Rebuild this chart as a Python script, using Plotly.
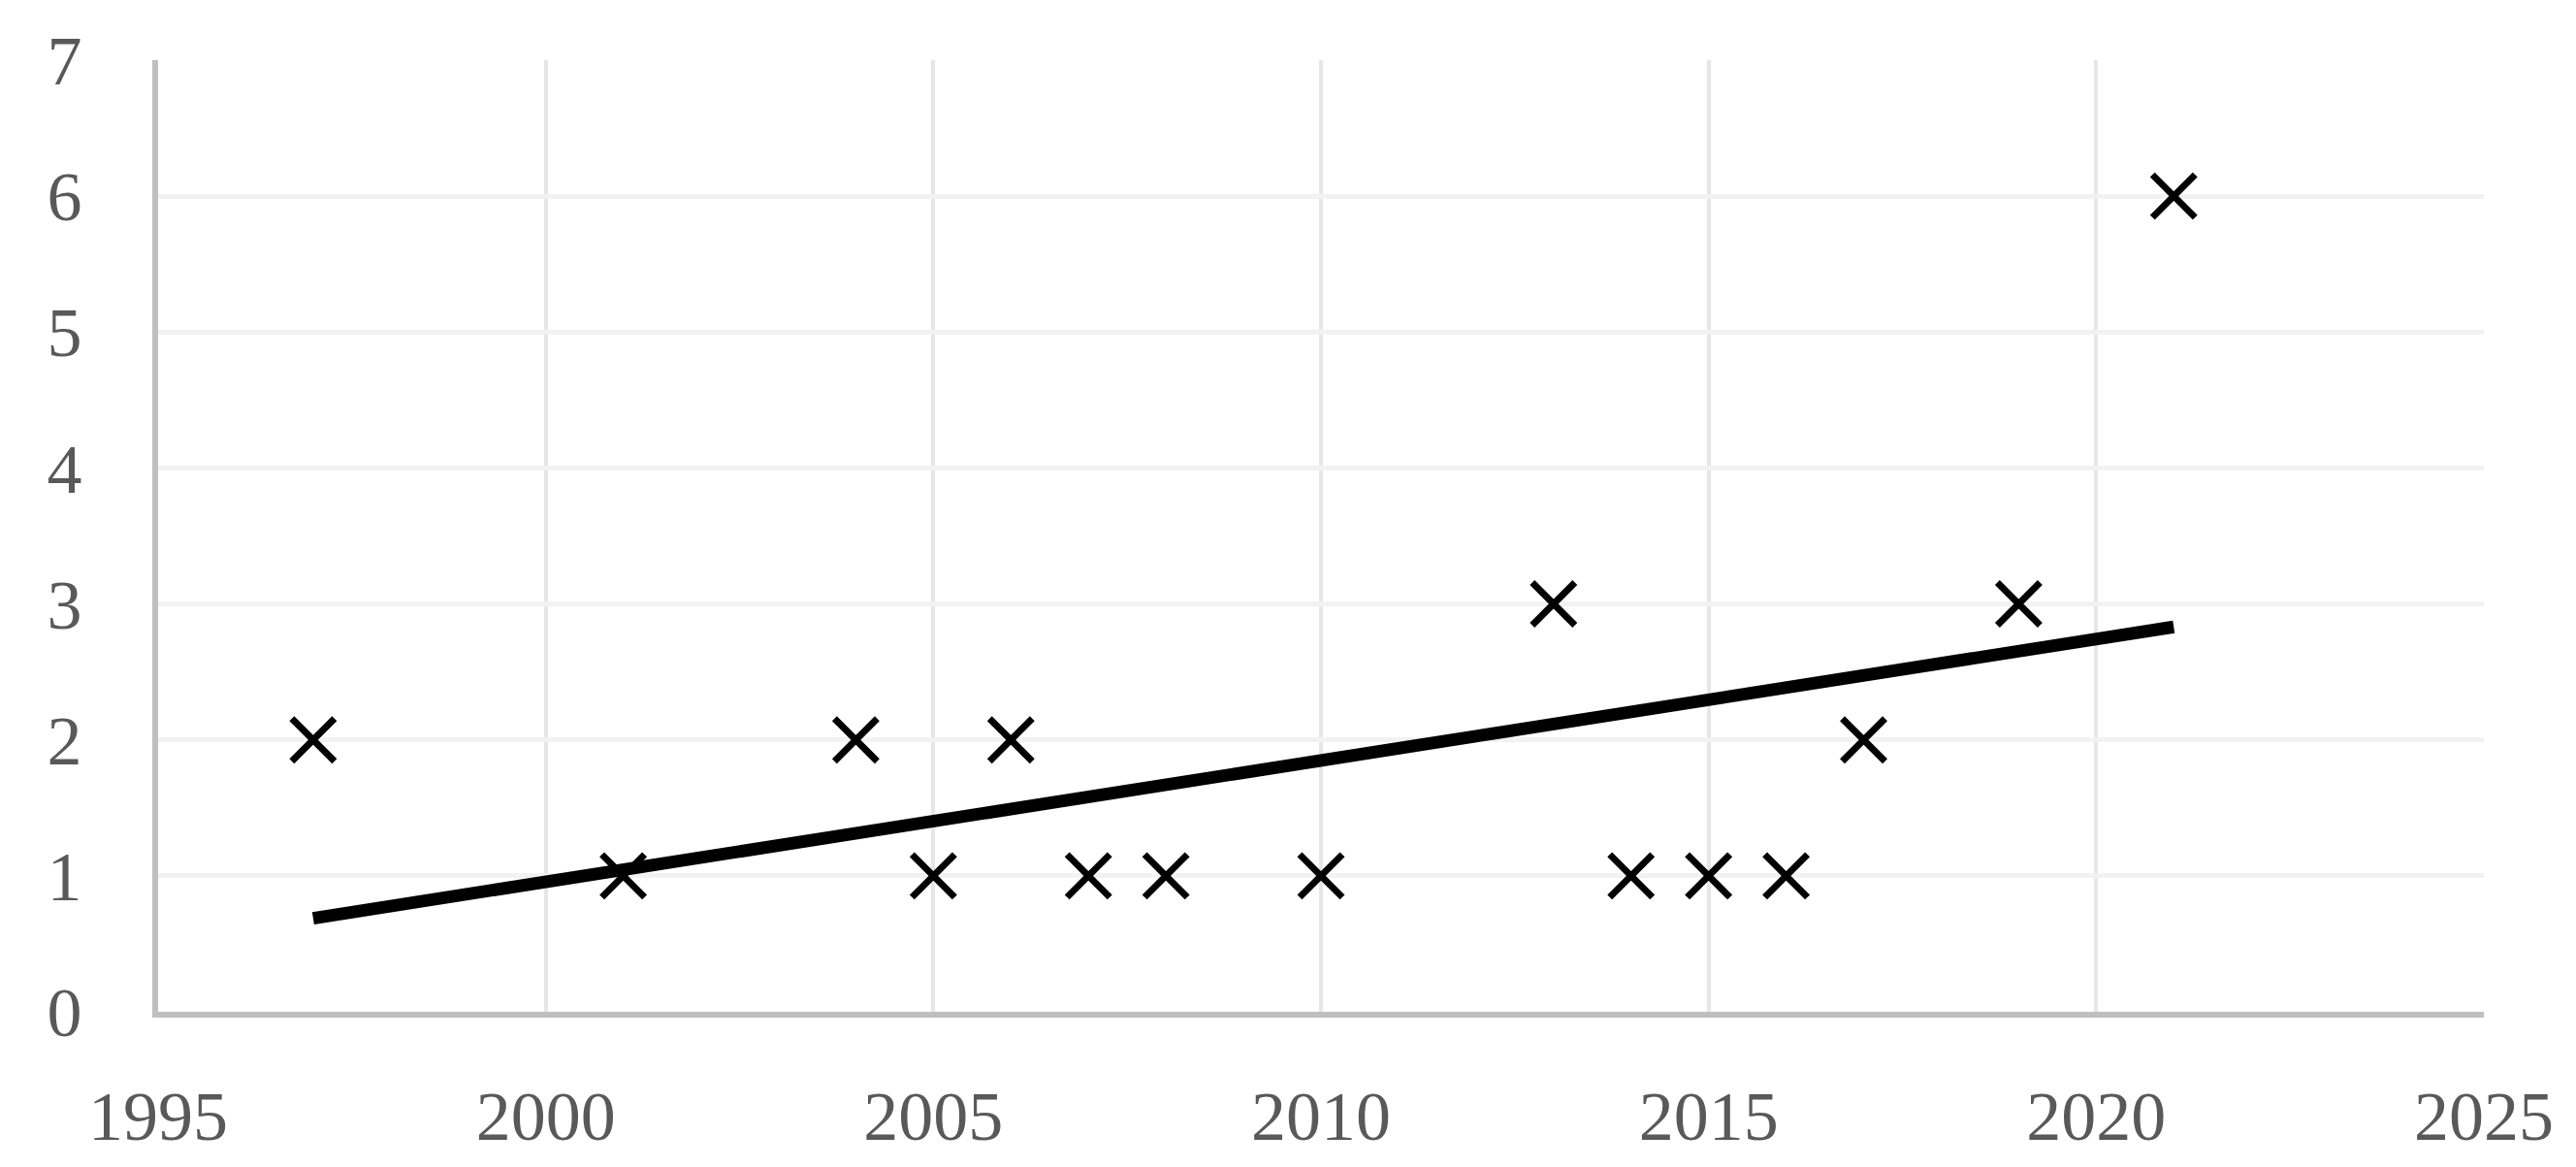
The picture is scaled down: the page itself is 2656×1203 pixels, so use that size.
import numpy as np
import plotly.graph_objects as go

years = [1997, 2001, 2004, 2005, 2006, 2007, 2008, 2010, 2013, 2014, 2015, 2016, 2017, 2019, 2021]
counts = [2, 1, 2, 1, 2, 1, 1, 1, 3, 1, 1, 1, 2, 3, 6]

x_ticks = [1995, 2000, 2005, 2010, 2015, 2020, 2025]
y_ticks = [0, 1, 2, 3, 4, 5, 6, 7]

# linear trendline over the data range
slope, intercept = np.polyfit(years, counts, 1)
trend_x = [min(years), max(years)]
trend_y = [slope * v + intercept for v in trend_x]

font = "Liberation Serif, Palatino Linotype, Book Antiqua, serif"

fig = go.Figure()

fig.add_trace(go.Scatter(
    x=trend_x, y=trend_y, mode="lines",
    line=dict(color="black", width=13),
    hoverinfo="skip",
))

fig.add_trace(go.Scatter(
    x=years, y=counts, mode="markers",
    marker=dict(symbol="x-thin", size=44, line=dict(color="black", width=7)),
))

fig.update_layout(
    width=2656, height=1203,
    margin=dict(l=163, r=95, t=62, b=160),
    paper_bgcolor="white", plot_bgcolor="white",
    showlegend=False,
    font=dict(family=font, size=72, color="#595959"),
)

fig.update_xaxes(
    range=[1995, 2025], tickvals=x_ticks,
    showgrid=True, gridcolor="#e6e6e6", gridwidth=4,
    showline=True, linecolor="#bfbfbf", linewidth=6,
    zeroline=False, ticks="", ticklabelstandoff=40, automargin=False,
)
fig.update_yaxes(
    range=[0, 7], tickvals=y_ticks,
    showgrid=True, gridcolor="#f2f2f2", gridwidth=5,
    showline=True, linecolor="#bfbfbf", linewidth=6,
    zeroline=False, ticks="", ticklabelstandoff=58, automargin=False,
)

# drop the default body margin so the figure sits at the window's corner
fig.write_html(
    "out.html",
    config={"displayModeBar": False},
    post_script="document.body.style.margin='0';",
)
